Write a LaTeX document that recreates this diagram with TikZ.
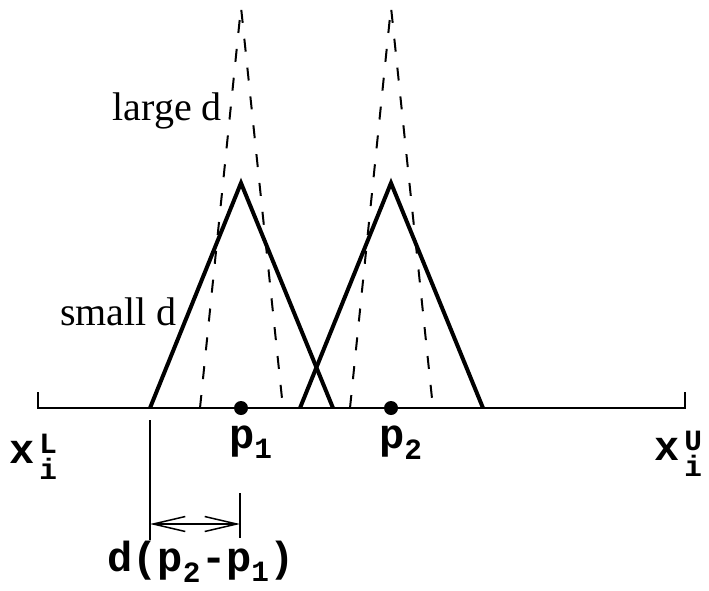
\documentclass[tikz,border=0pt]{standalone}
\usepackage{amsmath}
\usepackage{fontspec}
\setmainfont{Liberation Serif}
\newfontfamily\courfont{Liberation Mono}
\usetikzlibrary{arrows.meta,calc,positioning}

\tikzset{
  axisline/.style={line width=1.8pt},
  smallpeak/.style={line width=4pt},
  largepeak/.style={line width=2pt, dash pattern=on 13pt off 16pt},
  dimline/.style={line width=1.2pt},
  dimarrow/.style={line width=2pt, {Straight Barb[length=32pt,width=15pt,line width=1.5pt]}-{Straight Barb[length=32pt,width=15pt,line width=1.5pt]}},
  serlabel/.style={inner sep=0pt, font=\fontsize{40}{44}\selectfont},
  ttlabel/.style={inner sep=0pt, font=\fontsize{42}{46}\selectfont\courfont\bfseries}
}

\begin{document}
\begin{tikzpicture}[x=1pt,y=-1pt]
  \useasboundingbox (0,0) rectangle (709,590);
  % the interval [x_i^L, x_i^U]
  \coordinate (lo) at (38,408);
  \coordinate (hi) at (685,408);
  \coordinate (lotick) at (38,392);
  \coordinate (hitick) at (685,392);
  \draw[axisline] (lotick) -- (lo) -- (hi) -- (hitick);
  \node[ttlabel, anchor=base west] (xlo) at (9,463) {x\kern5pt$_{\text{i}}^{\text{L}}$};
  \node[ttlabel, anchor=base west] (xhi) at (654,460) {x\kern5pt$_{\text{i}}^{\text{U}}$};
  % the two peaks
  \foreach \i/\xp in {1/241, 2/391} {
      \coordinate (p\i) at (\xp,408);
      \coordinate (top\i) at (\xp,183);
      \coordinate (peak\i) at (\xp,7);
      \coordinate (sl\i) at (\xp-91,408);
      \coordinate (sr\i) at (\xp+92,408);
      \coordinate (ll\i) at (\xp-41,408);
      \coordinate (lr\i) at (\xp+42,408);
      % small d
      \draw[smallpeak] (sl\i) -- (top\i) -- (sr\i);
      % large d
      \draw[largepeak] (ll\i) -- (peak\i) -- (lr\i);
      \fill (p\i) circle (7);
      \node[ttlabel, anchor=base west] (plab\i) at (\xp-12,448) {p$_{\text{\i}}$};
    }
  \node[serlabel, anchor=base east] (large) at (222,120) {large d};
  \node[serlabel, anchor=base east] (small) at (177,325) {small d};
  % width of the peak
  \coordinate (dl) at (150,420);
  \coordinate (dlb) at (150,540);
  \coordinate (dr) at (240,493);
  \coordinate (drb) at (240,538);
  \draw[dimline] (dl) -- (dlb);
  \draw[dimline] (dr) -- (drb);
  \draw[dimarrow] (150,524) -- (240,524);
  \node[ttlabel, anchor=base] (dlab) at (201,571) {d(p$_{\text{2}}$-p$_{\text{1}}$)};
\end{tikzpicture}
\end{document}
